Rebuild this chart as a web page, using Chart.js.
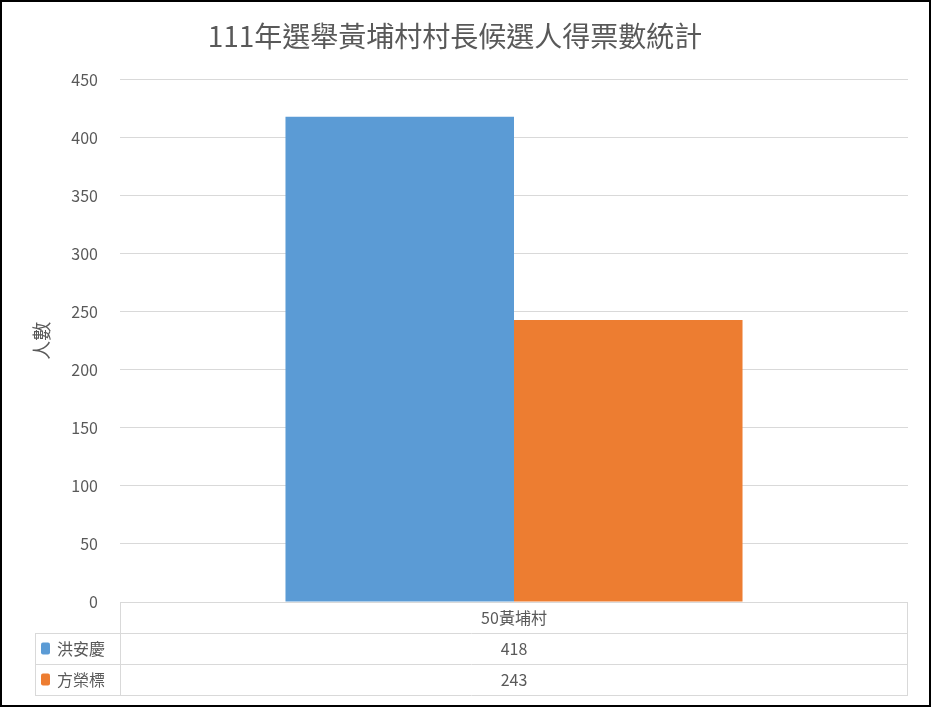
<!DOCTYPE html>
<html>
<head>
<meta charset="utf-8">
<script src="https://cdn.jsdelivr.net/npm/chart.js@4"></script>
<style>
  html, body { margin: 0; padding: 0; background: #000; }
  #wrap { position: absolute; left: 2px; top: 2px; width: 927px; height: 703px; background: #fff; }
</style>
</head>
<body>
<div id="wrap"><canvas id="voteChart"></canvas></div>
<script>
// 資料
const categories = ['50黃埔村'];
const candidateNames = ['洪安慶', '方榮標'];
const hongVotes = [418];
const fangVotes = [243];
const seriesColors = ['#5B9BD5', '#ED7D31'];
const chartTitle = '111年選舉黃埔村村長候選人得票數統計';
const yAxisTitle = '人數';

const fontFamily = '"Noto Sans CJK TC", "Noto Sans", sans-serif';
const textColor = '#595959';
const lineColor = '#d9d9d9';

// 下方資料表
const dataTablePlugin = {
    id: 'dataTable',
    afterDraw(chart) {
        const ctx = chart.ctx;
        const area = chart.chartArea;
        const xScale = chart.scales.x;
        const rowH = 31;
        const top = area.bottom;
        const leftCol = 33;
        ctx.save();
        ctx.strokeStyle = lineColor;
        ctx.lineWidth = 1;
        ctx.beginPath();
        // 橫線
        ctx.moveTo(area.left, top + 0.5);
        ctx.lineTo(area.right, top + 0.5);
        for (let i = 1; i <= 3; i++) {
            const y = Math.round(top + rowH * i) + 0.5;
            ctx.moveTo(leftCol, y);
            ctx.lineTo(area.right, y);
        }
        // 直線
        ctx.moveTo(Math.round(area.left) + 0.5, top);
        ctx.lineTo(Math.round(area.left) + 0.5, top + rowH * 3);
        ctx.moveTo(Math.round(area.right) - 0.5, top);
        ctx.lineTo(Math.round(area.right) - 0.5, top + rowH * 3);
        ctx.moveTo(leftCol + 0.5, top + rowH);
        ctx.lineTo(leftCol + 0.5, top + rowH * 3);
        ctx.stroke();

        ctx.fillStyle = textColor;
        ctx.font = '16px ' + fontFamily;
        ctx.textAlign = 'center';
        ctx.textBaseline = 'middle';
        categories.forEach((c, i) => {
            const x = xScale.getPixelForValue(i);
            ctx.fillText(c, x, top + rowH / 2);
            chart.data.datasets.forEach((ds, j) => {
                ctx.fillText(String(ds.data[i]), x, top + rowH * (j + 1.5));
            });
        });

        chart.data.datasets.forEach((ds, j) => {
            const cy = top + rowH * (j + 1.5);
            ctx.fillStyle = ds.backgroundColor;
            ctx.beginPath();
            ctx.roundRect(leftCol + 6, cy - 6, 9, 12, 2);
            ctx.fill();
            ctx.fillStyle = textColor;
            ctx.textAlign = 'left';
            ctx.fillText(ds.label, leftCol + 22, cy);
        });
        ctx.restore();
    }
};

const ctx = document.getElementById('voteChart').getContext('2d');
new Chart(ctx, {
    type: 'bar',
    data: {
        labels: categories,
        datasets: [
            { label: candidateNames[0], data: hongVotes, backgroundColor: seriesColors[0] },
            { label: candidateNames[1], data: fangVotes, backgroundColor: seriesColors[1] }
        ]
    },
    options: {
        responsive: true,
        maintainAspectRatio: false,
        animation: false,
        categoryPercentage: 0.58,
        barPercentage: 1.0,
        layout: { padding: { left: 0, right: 21, top: 0, bottom: 10 } },
        plugins: {
            legend: { display: false },
            tooltip: { enabled: false },
            title: {
                display: true,
                text: chartTitle,
                color: textColor,
                font: { family: fontFamily, size: 28, weight: 'normal' },
                padding: { top: 18, bottom: 26 }
            }
        },
        scales: {
            x: {
                grid: { display: false },
                border: { display: false },
                ticks: { display: false },
                afterFit: function(scale) { scale.height = 93; }
            },
            y: {
                min: 0,
                max: 450,
                grid: { color: lineColor, drawTicks: false },
                border: { display: false },
                ticks: {
                    stepSize: 50,
                    padding: 22,
                    color: textColor,
                    font: { family: fontFamily, size: 16 }
                },
                title: {
                    display: true,
                    text: yAxisTitle,
                    color: textColor,
                    font: { family: fontFamily, size: 19 },
                    padding: { top: 28, bottom: 0 }
                },
                afterFit: function(scale) { scale.width = 118; }
            }
        }
    },
    plugins: [dataTablePlugin]
});
</script>
</body>
</html>
